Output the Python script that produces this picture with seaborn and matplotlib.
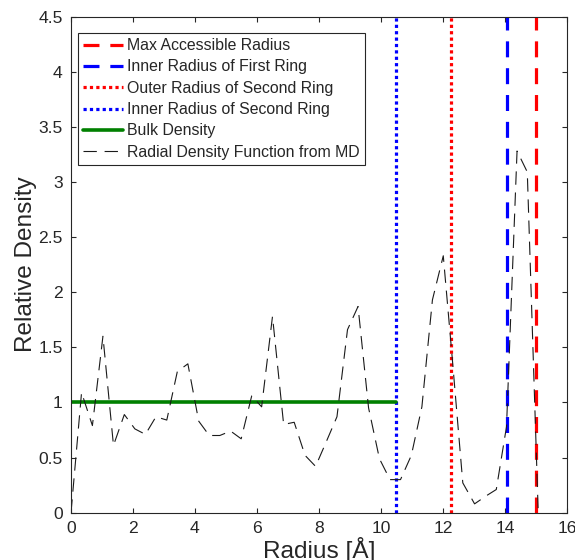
import matplotlib
matplotlib.use('Agg')
import matplotlib.pyplot as plt
import seaborn as sns

# Radial density function
radius = [0.00, 0.34, 0.69, 1.03, 1.37, 1.72, 2.06, 2.40, 2.74, 3.09,
          3.43, 3.77, 4.12, 4.46, 4.80, 5.15, 5.49, 5.83, 6.15, 6.50,
          6.86, 7.20, 7.55, 7.89, 8.23, 8.58, 8.92, 9.26, 9.60, 9.95,
          10.29, 10.63, 10.98, 11.32, 11.66, 12.01, 12.30, 12.64, 13.02, 13.38,
          13.72, 14.05, 14.39, 14.72, 15.07]
density = [0.00, 1.09, 0.79, 1.60, 0.61, 0.89, 0.76, 0.71, 0.87, 0.84,
           1.28, 1.35, 0.83, 0.70, 0.70, 0.74, 0.67, 1.06, 0.96, 1.78,
           0.80, 0.82, 0.52, 0.42, 0.64, 0.87, 1.66, 1.87, 0.95, 0.49,
           0.30, 0.30, 0.52, 0.96, 1.93, 2.33, 1.40, 0.27, 0.08, 0.15,
           0.21, 0.78, 3.28, 3.09, 0.03]

# Radios de referencia
ring_labels = ['Max Accessible Radius', 'Inner Radius of First Ring',
               'Outer Radius of Second Ring', 'Inner Radius of Second Ring']
ring_radii = [15.0, 14.07, 12.27, 10.47]
ring_colors = ['#ff0000', '#0000ff', '#ff0000', '#0000ff']
ring_styles = [(0, (5, 3.4)), (0, (5, 3.4)), (0, (1, 1)), (0, (1, 1))]

bulk_x = [0, 10.47]
bulk_y = [1, 1]

x_ticks = [0, 2, 4, 6, 8, 10, 12, 14, 16]
y_ticks = [0, 0.5, 1, 1.5, 2, 2.5, 3, 3.5, 4, 4.5]

sns.set_theme(style="ticks")
plt.rcParams['font.family'] = ['Liberation Sans', 'DejaVu Sans']
gris = '#262626'

fig = plt.figure(figsize=(5.75, 5.6), dpi=100)
ax = fig.add_axes([0.1235, 0.0845, 0.8625, 0.886])

for lab, r, c, ls in zip(ring_labels, ring_radii, ring_colors, ring_styles):
    ax.axvline(r, color=c, lw=2.3, linestyle=ls, label=lab)

sns.lineplot(x=bulk_x, y=bulk_y, color='#008000', lw=2.6, ax=ax, label='Bulk Density')
sns.lineplot(x=radius, y=density, color='k', lw=0.8, linestyle=(0, (12, 7)),
             ax=ax, label='Radial Density Function from MD')

ax.set_xlim(0, 16)
ax.set_ylim(0, 4.5)
ax.set_xticks(x_ticks)
ax.set_xticklabels([f"{t:g}" for t in x_ticks])
ax.set_yticks(y_ticks)
ax.set_yticklabels([f"{t:g}" for t in y_ticks])
ax.tick_params(direction='in', length=3.6, width=0.8, top=True, right=True,
               labelsize=12.6, colors=gris, pad=6)
for s in ax.spines.values():
    s.set_color(gris)
    s.set_linewidth(0.8)

ax.set_xlabel('Radius [Å]', fontsize=17.6, color=gris, labelpad=0.5)
ax.set_ylabel('Relative Density', fontsize=17.6, color=gris, labelpad=1)

handles, labels = ax.get_legend_handles_labels()
leg = ax.legend(handles, labels, loc='upper left', bbox_to_anchor=(0.014, 0.967),
                borderaxespad=0, fontsize=11.4, frameon=True, fancybox=False,
                edgecolor=gris, framealpha=1, handlelength=2.5, handletextpad=0.25,
                labelspacing=0.4, borderpad=0.33)
leg.get_frame().set_linewidth(0.8)

fig.savefig('out.png', dpi=100)
plt.close()
